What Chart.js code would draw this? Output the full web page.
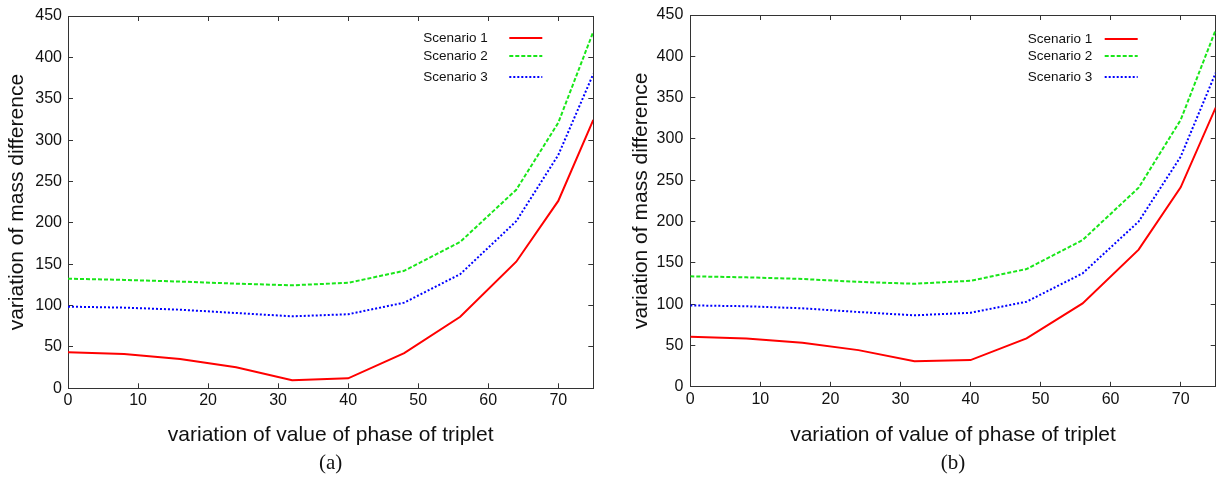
<!DOCTYPE html>
<html>
<head>
<meta charset="utf-8">
<script src="https://cdn.jsdelivr.net/npm/chart.js@4.4.1/dist/chart.umd.min.js"></script>
<style>
  html, body { margin: 0; padding: 0; background: #fff; }
  #wrap { position: relative; width: 1217px; height: 481px; overflow: hidden; }
  .box { position: absolute; top: 0; height: 481px; }
</style>
</head>
<body>
<div id="wrap">
  <div class="box" style="left:0;width:610px"><canvas id="chartA" width="610" height="481"></canvas></div>
  <div class="box" style="left:610px;width:607px"><canvas id="chartB" width="607" height="481"></canvas></div>
</div>
<script>
// ---- data ----
const phase = [0, 8, 16, 24, 32, 40, 48, 56, 64, 70, 75];
const seriesLabels = ['Scenario 1', 'Scenario 2', 'Scenario 3'];

const scenario1A = [43.5, 41.5, 35.5, 25.5, 9.7, 12, 42.5, 86.5, 153, 226.5, 324.5];
const scenario2A = [132.5, 131, 129, 126.5, 124.5, 127.5, 142, 177, 240, 321, 431];
const scenario3A = [98.7, 97.5, 95, 91, 87, 89.5, 103.5, 138, 202, 282, 380];

const scenario1B = [60.5, 58.6, 53.3, 44.4, 31, 32.3, 58.6, 101, 166, 241.4, 338];
const scenario2B = [133.7, 132.5, 130.5, 127, 124.7, 128.3, 142.5, 177.6, 241, 323, 432];
const scenario3B = [98.5, 97.5, 95, 90.5, 86.5, 89.6, 103, 137.3, 200, 278.5, 380];

const xTitle = 'variation of value of phase of triplet';
const yTitle = 'variation of mass difference';
const captions = ['(a)', '(b)'];

// ---- styling ----
const SANS = '"Liberation Sans", Arial, Helvetica, sans-serif';
const SERIF = '"Liberation Serif", "Times New Roman", serif';
const AX = '#333';
const TXT = '#111';
const styles = [
  { color: '#ff0000', dash: [] },
  { color: '#19e619', dash: [4, 2] },
  { color: '#0000ff', dash: [2, 2] }
];

const keyPlugin = {
  id: 'keyBox',
  afterDatasetsDraw(chart, args, opts) {
    const ctx = chart.ctx, a = chart.chartArea;
    chart.data.datasets.forEach((ds, i) => {
      const y = a.top + opts.rows[i];
      ctx.save();
      ctx.font = '13.5px ' + SANS;
      ctx.fillStyle = TXT;
      ctx.textBaseline = 'middle';
      ctx.textAlign = 'left';
      ctx.fillText(ds.label, a.right - opts.textFromRight, y);
      ctx.strokeStyle = ds.borderColor;
      ctx.lineWidth = ds.borderWidth;
      ctx.setLineDash(ds.borderDash || []);
      ctx.beginPath();
      ctx.moveTo(a.right - opts.lineFromRight, y);
      ctx.lineTo(a.right - opts.lineFromRight + opts.lineLen, y);
      ctx.stroke();
      ctx.restore();
    });
  }
};

function noPad(s) { s.paddingTop = 0; s.paddingBottom = 0; s.paddingLeft = 0; s.paddingRight = 0; }

function makeChart(id, values, caption, geo) {
  const datasets = values.map((vals, i) => ({
    label: seriesLabels[i],
    data: phase.map((p, k) => ({ x: p, y: vals[k] })),
    borderColor: styles[i].color,
    backgroundColor: styles[i].color,
    borderDash: styles[i].dash,
    borderWidth: 2,
    borderCapStyle: 'butt',
    pointRadius: 0,
    tension: 0,
    fill: false
  }));
  const tickFont = { family: SANS, size: 16 };
  return new Chart(document.getElementById(id), {
    type: 'line',
    data: { datasets },
    plugins: [keyPlugin],
    options: {
      responsive: false,
      devicePixelRatio: 1,
      animation: false,
      events: [],
      layout: { padding: { left: geo.padLeft, right: geo.padRight, top: geo.padTop, bottom: 0 } },
      plugins: {
        legend: { display: false },
        tooltip: { enabled: false },
        title: { display: false },
        subtitle: {
          display: true, text: caption, position: 'bottom', fullSize: false,
          color: TXT, font: { family: SERIF, size: 21, weight: 'normal' },
          padding: { top: 0, bottom: 5 }
        },
        keyBox: geo.key
      },
      scales: {
        x: {
          type: 'linear', position: 'bottom', min: 0, max: 75,
          ticks: { stepSize: 10, includeBounds: false, padding: 8, color: TXT, font: tickFont, maxRotation: 0 },
          grid: { drawOnChartArea: false, tickLength: -5, color: AX, lineWidth: 1 },
          border: { color: AX, width: 1 },
          title: { display: true, text: xTitle, color: TXT, font: { family: SANS, size: 21 }, padding: { top: 0, bottom: 3.4 } },
          afterFit(s) { s.height = geo.xHeight; noPad(s); }
        },
        x2: {
          type: 'linear', position: 'top', min: 0, max: 75,
          ticks: { display: false, stepSize: 10, includeBounds: false },
          grid: { drawOnChartArea: false, tickLength: -5, color: AX, lineWidth: 1 },
          border: { color: AX, width: 1 },
          afterFit(s) { s.height = 0; noPad(s); }
        },
        y: {
          type: 'linear', position: 'left', min: 0, max: 450,
          ticks: { stepSize: 50, padding: geo.yTickPad, color: TXT, font: tickFont },
          grid: { drawOnChartArea: false, tickLength: -5, color: AX, lineWidth: 1 },
          border: { color: AX, width: 1 },
          title: { display: true, text: yTitle, color: TXT, font: { family: SANS, size: 21 }, padding: { top: geo.yTitlePad, bottom: 0 } },
          afterFit(s) { s.width = 68; noPad(s); }
        },
        y2: {
          type: 'linear', position: 'right', min: 0, max: 450,
          ticks: { display: false, stepSize: 50 },
          grid: { drawOnChartArea: false, tickLength: -5, color: AX, lineWidth: 1 },
          border: { color: AX, width: 1 },
          afterFit(s) { s.width = 0; noPad(s); }
        }
      }
    }
  });
}

makeChart('chartA', [scenario1A, scenario2A, scenario3A], captions[0], {
  padLeft: 0, padRight: 16.7, padTop: 16, xHeight: 62.5, yTickPad: 11, yTitlePad: 4.4,
  key: { rows: [22, 40, 61], textFromRight: 170, lineFromRight: 84, lineLen: 33 }
});
makeChart('chartB', [scenario1B, scenario2B, scenario3B], captions[1], {
  padLeft: 12.3, padRight: 1.3, padTop: 15, xHeight: 64, yTickPad: 12, yTitlePad: 6,
  key: { rows: [24, 41, 62], textFromRight: 188, lineFromRight: 111, lineLen: 33 }
});
</script>
</body>
</html>
